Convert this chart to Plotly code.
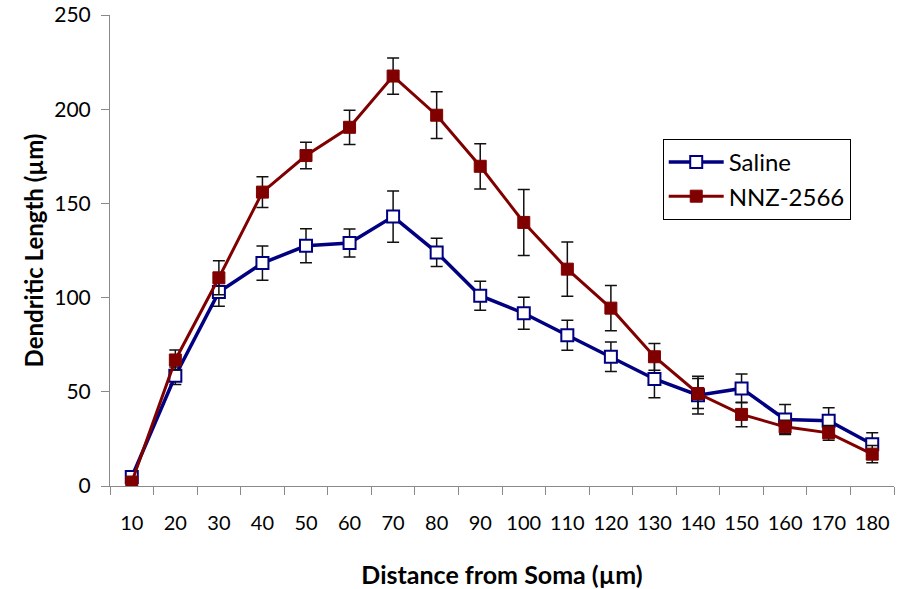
import plotly.graph_objects as go

distances = ["10", "20", "30", "40", "50", "60", "70", "80", "90", "100",
             "110", "120", "130", "140", "150", "160", "170", "180"]
saline = [4.8, 58.5, 103, 118.3, 127.5, 129, 143, 124, 101, 91.7,
          80, 68.6, 56.8, 48.2, 51.8, 35.3, 34.6, 22.2]
saline_err = [2, 4.6, 7.6, 9.1, 9, 7.4, 13.6, 7.5, 7.7, 8.5,
              8, 7.8, 10, 10, 7.6, 8, 6.9, 6]
nnz = [2.1, 66.9, 110.5, 156, 175.4, 190.4, 217.6, 196.8, 169.7, 139.9,
       115.1, 94.4, 68.6, 49.1, 38, 31.4, 28.2, 16.9]
nnz_err = [1, 5.3, 9, 8.2, 7, 9.1, 9.6, 12.4, 12, 17.5,
           14.4, 12, 7.1, 8, 6.5, 3.5, 3.9, 4.6]

FONT = "Lato"
fig = go.Figure()
fig.add_trace(go.Scatter(
    x=distances, y=saline, name="Saline", mode="lines+markers",
    line=dict(color="#000080", width=3.5),
    marker=dict(symbol="square", size=12, color="white",
                line=dict(color="#000080", width=2)),
    error_y=dict(type="data", array=saline_err, visible=True,
                 color="#111111", thickness=1.5, width=6),
))
fig.add_trace(go.Scatter(
    x=distances, y=nnz, name="NNZ-2566", mode="lines+markers",
    line=dict(color="#800000", width=3),
    marker=dict(symbol="square", size=12, color="#800000",
                line=dict(color="#800000", width=1)),
    error_y=dict(type="data", array=nnz_err, visible=True,
                 color="#111111", thickness=1.5, width=6),
))

fig.update_layout(
    width=905, height=589,
    margin=dict(l=110, r=11, t=15, b=103, autoexpand=False),
    paper_bgcolor="white", plot_bgcolor="white",
    font=dict(family=FONT, color="black", size=21),
    showlegend=True,
    legend=dict(x=0.705, y=0.737, xanchor="left", yanchor="top",
                bordercolor="black", borderwidth=1, bgcolor="white",
                font=dict(family=FONT, size=24), tracegroupgap=0,
                itemwidth=55, entrywidth=185),
    xaxis=dict(
        type="category", range=[-0.5, 17.5], tickson="boundaries",
        ticks="outside", ticklen=8, tickcolor="#898989",
        showline=True, linecolor="#898989", linewidth=1,
        showgrid=False, zeroline=False, automargin=False,
        tickangle=0, tickfont=dict(family=FONT, size=20),
        ticklabelstandoff=19,
        title=dict(text="<b>Distance from Soma (µm)</b>",
                   font=dict(family=FONT, size=25), standoff=37),
    ),
    yaxis=dict(
        range=[0, 250], tickvals=[0, 50, 100, 150, 200, 250],
        ticks="outside", ticklen=8, tickcolor="#898989",
        showline=True, linecolor="#898989", linewidth=1,
        showgrid=False, zeroline=False, automargin=False,
        tickfont=dict(family=FONT, size=21),
        ticklabelstandoff=6,
        title=dict(text="<b>Dendritic Length (µm)</b>",
                   font=dict(family=FONT, size=24), standoff=3),
    ),
)

fig.write_html("out.html")
